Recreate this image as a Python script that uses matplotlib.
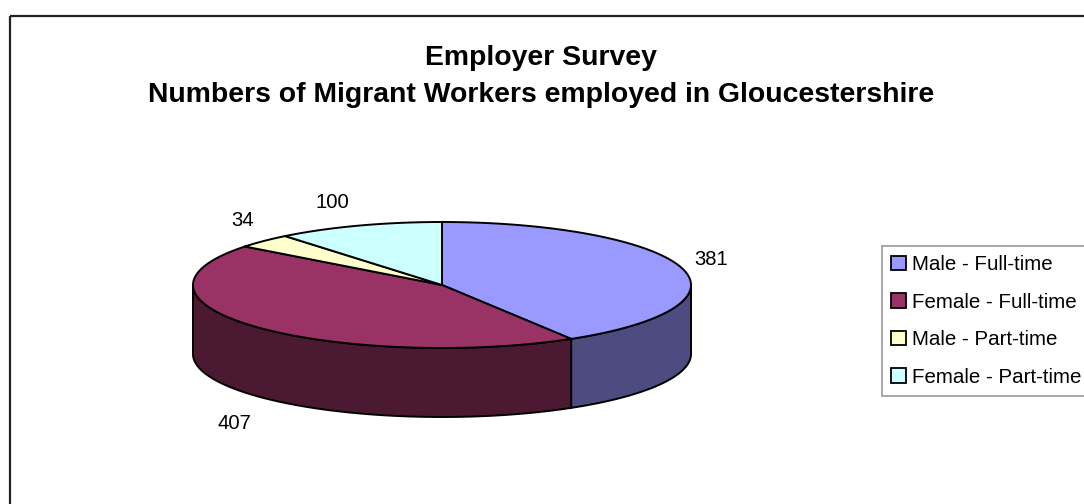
import numpy as np
import matplotlib
matplotlib.use('Agg')
from matplotlib import pyplot as plt
from matplotlib.patches import Polygon, Rectangle, Patch

plt.rcParams['font.family'] = ['Liberation Sans', 'DejaVu Sans']

# Survey counts
categories = ['Male - Full-time', 'Female - Full-time', 'Male - Part-time', 'Female - Part-time']
counts = [381, 407, 34, 100]
top_colors = ['#9999FF', '#993366', '#FFFFCC', '#CCFFFF']
side_colors = ['#4C4C80', '#4C1933', '#80805F', '#5F8080']

title_lines = ['Employer Survey', 'Numbers of Migrant Workers employed in Gloucestershire']

W, H = 1084, 504

# pie layout in pixel space
CX, CY = 442, 285
RX, RY = 249, 63
DEPTH = 69
LABEL_PAD = 30


def rim(t_deg, dy=0, rx=RX, ry=RY):
    t = np.radians(t_deg)
    return np.column_stack([CX + rx * np.cos(t), CY - ry * np.sin(t) + dy])


def main():
    fig = plt.figure(figsize=(W / 100, H / 100), dpi=100)
    ax = fig.add_axes([0, 0, 1, 1])
    ax.set_xlim(0, W)
    ax.set_ylim(H, 0)
    ax.axis('off')

    # chart area border
    ax.add_patch(Rectangle((10, 16), W, H, fill=False, ec='#222222', lw=1.6, clip_on=False))

    total = float(sum(counts))
    start = 90.0
    wedges = []
    for i, c in enumerate(counts):
        sweep = c / total * 360.0
        end = start - sweep
        wedges.append((start, end))
        start = end

    # side walls (front half only)
    for i, (s, e) in enumerate(wedges):
        for k in (-360, 0, 360):
            lo, hi = max(e, -180 + k), min(s, 0 + k)
            if hi <= lo:
                continue
            t = np.linspace(lo, hi, 200)
            pts = np.vstack([rim(t), rim(t[::-1], DEPTH)])
            ax.add_patch(Polygon(pts, closed=True, fc=side_colors[i], ec='black', lw=1.4, zorder=2))

    # top faces
    for i, (s, e) in enumerate(wedges):
        t = np.linspace(s, e, 300)
        pts = np.vstack([[CX, CY], rim(t)])
        ax.add_patch(Polygon(pts, closed=True, fc=top_colors[i], ec='black', lw=1.4, zorder=3))

    # value labels
    for i, (s, e) in enumerate(wedges):
        mid = (s + e) / 2.0
        x, y = rim(mid, rx=RX + LABEL_PAD, ry=RY + LABEL_PAD)[0]
        if np.sin(np.radians(mid)) < 0:
            y += DEPTH + 8
        cs = np.cos(np.radians(mid))
        if abs(cs) > 0.5:
            ha = 'center'
        else:
            ha = 'left' if cs > 0 else 'right'
            y += 5
        ax.text(x, y, str(counts[i]), ha=ha, va='center', fontsize=14.6, zorder=4)

    ax.text(541, 58, title_lines[0], ha='center', va='center', fontsize=20.4, fontweight='bold')
    ax.text(541, 95, title_lines[1], ha='center', va='center', fontsize=20.4, fontweight='bold')

    handles = [Patch(fc=top_colors[i], ec='black', lw=1.3) for i in range(len(categories))]
    leg = ax.legend(handles, categories, loc='upper left',
                    bbox_to_anchor=(882 / W, 1 - 246 / H), bbox_transform=fig.transFigure,
                    fontsize=14.8, frameon=True, fancybox=False, borderaxespad=0,
                    borderpad=0.45, handlelength=0.7, handleheight=0.7,
                    handletextpad=0.3, labelspacing=0.9)
    leg.get_frame().set_edgecolor('#808080')
    leg.get_frame().set_linewidth(1.2)

    fig.savefig('out.png', dpi=100, facecolor='white')


if __name__ == '__main__':
    main()
